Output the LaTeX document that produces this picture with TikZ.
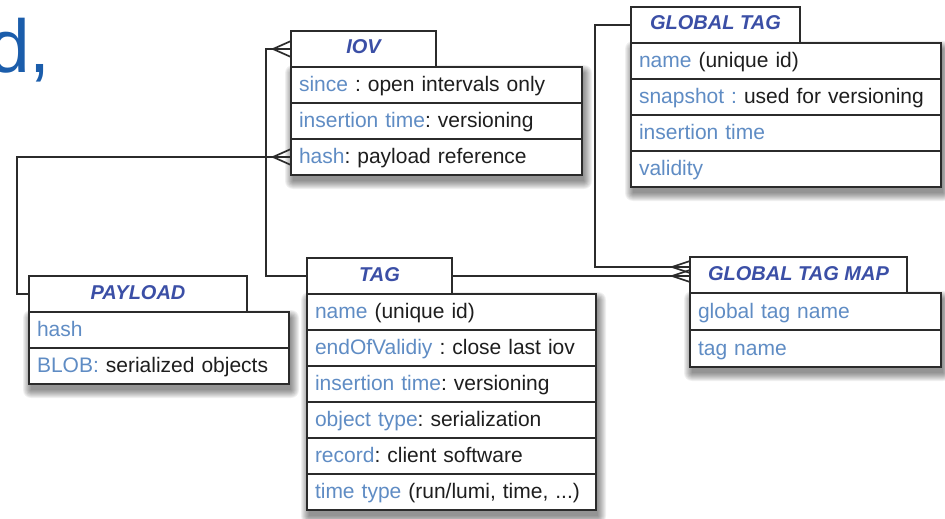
\documentclass[tikz,border=0pt]{standalone}
\usepackage{fontspec}
\setmainfont{Liberation Sans}
\usetikzlibrary{backgrounds,calc}
\frenchspacing

\definecolor{fieldblue}{HTML}{5F8CC4}
\definecolor{titleblue}{HTML}{3B4FA6}
\definecolor{ink}{HTML}{1E1E1E}
\definecolor{edge}{HTML}{2B2B2B}
\definecolor{headblue}{HTML}{1B5DAB}

\tikzset{
  entbox/.style={draw=edge, line width=1.8pt, fill=white, anchor=north west,
    inner xsep=8pt, inner ysep=0pt, outer sep=0pt},
  hdr/.style={entbox, minimum height=36pt, text height=14pt, text depth=4pt,
    font=\fontsize{20}{24}\selectfont\bfseries\itshape, text=titleblue},
  fieldrow/.style={entbox, minimum height=36pt, text width=#1, align=left,
    text height=18pt, text depth=5pt, font=\fontsize{21}{25}\selectfont, text=ink},
  conn/.style={draw=edge, line width=1.8pt},
}

% field name in blue
\newcommand\fk[1]{\textcolor{fieldblue}{#1}}

% soft shadow under an entity body, given its two corner anchors
\newcommand\boxshade[2]{%
  \begin{pgfonlayer}{background}
    \foreach \s in {0,...,8}{
      \fill[black, opacity=0.06, rounded corners=\s*1pt]
        ([xshift=2pt-\s*1pt, yshift=\s*1pt-6pt]#1) rectangle
        ([xshift=2pt+\s*1pt, yshift=-6pt-\s*1pt]#2);
    }
  \end{pgfonlayer}}

% crow's foot (many side) ending at an anchor on a box's left edge
\newcommand\crow[2]{%
  \draw[conn, line width=1.7pt]
    ([xshift=-18pt]#1) -- ([yshift=#2]#1)
    ([xshift=-18pt]#1) -- (#1)
    ([xshift=-18pt]#1) -- ([yshift=-#2]#1);}

\begin{document}
\begin{tikzpicture}[x=1pt, y=-1pt]
\useasboundingbox (0,0) rectangle (945,519);

% fragment of a slide title
\node[anchor=base west, inner sep=0pt, text=headblue,
      font=\fontsize{75}{80}\selectfont] (frag) at (-12,73) {d,};

% ---- IOV ----
\node[hdr, minimum width=145pt] (iovH) at (291,31) {IOV};
\node[fieldrow=275pt] (iov1) at (iovH.south west) {\fk{since} : open intervals only};
\node[fieldrow=275pt] (iov2) at (iov1.south west) {\fk{insertion time}: versioning};
\node[fieldrow=275pt] (iov3) at (iov2.south west) {\fk{hash}: payload reference};
\boxshade{iov1.north west}{iov3.south east}

% ---- GLOBAL TAG ----
\node[hdr, minimum width=169pt] (gtH) at (631,7) {GLOBAL TAG};
\node[fieldrow=294pt] (gt1) at (gtH.south west) {\fk{name} (unique id)};
\node[fieldrow=294pt] (gt2) at (gt1.south west) {\fk{snapshot :} used for versioning};
\node[fieldrow=294pt] (gt3) at (gt2.south west) {\fk{insertion time}};
\node[fieldrow=294pt] (gt4) at (gt3.south west) {\fk{validity}};
\boxshade{gt1.north west}{gt4.south east}

% ---- PAYLOAD ----
\node[hdr, minimum width=218pt] (payH) at (29,276) {PAYLOAD};
\node[fieldrow=244pt] (pay1) at (payH.south west) {\fk{hash}};
\node[fieldrow=244pt] (pay2) at (pay1.south west) {\fk{BLOB:} serialized objects};
\boxshade{pay1.north west}{pay2.south east}

% ---- TAG ----
\node[hdr, minimum width=145pt] (tagH) at (307,258) {TAG};
\node[fieldrow=273pt] (tag1) at (tagH.south west) {\fk{name} (unique id)};
\node[fieldrow=273pt] (tag2) at (tag1.south west) {\fk{endOfValidiy} : close last iov};
\node[fieldrow=273pt] (tag3) at (tag2.south west) {\fk{insertion time}: versioning};
\node[fieldrow=273pt] (tag4) at (tag3.south west) {\fk{object type}: serialization};
\node[fieldrow=273pt] (tag5) at (tag4.south west) {\fk{record}: client software};
\node[fieldrow=273pt] (tag6) at (tag5.south west) {\fk{time type} (run/lumi, time, ...)};
\boxshade{tag1.north west}{tag6.south east}

% ---- GLOBAL TAG MAP ----
\node[hdr, minimum width=217pt] (gtmH) at (690,257) {GLOBAL TAG MAP};
\node[fieldrow=235pt, minimum height=37pt] (gtm1) at (gtmH.south west) {\fk{global tag name}};
\node[fieldrow=235pt, minimum height=37pt] (gtm2) at (gtm1.south west) {\fk{tag name}};
\boxshade{gtm1.north west}{gtm2.south east}

% ---- relations ----
\coordinate (railA) at (266,0);
\coordinate (railB) at (17,0);
\coordinate (railC) at (595,0);
\coordinate (gtmTop) at ([yshift=8pt]gtmH.west);
\coordinate (gtmLow) at (tagH.east -| gtmH.west);

\draw[conn] (tagH.west) -- (tagH.west -| railA) -- (iovH.west -| railA) -- (iovH.west);
\crow{iovH.west}{8pt}

\draw[conn] (iov3.west) -- (iov3.west -| railB) -- (payH.west -| railB) -- (payH.west);
\crow{iov3.west}{8pt}

\draw[conn] (gtH.west) -- (gtH.west -| railC) -- (gtmTop -| railC) -- (gtmTop);
\crow{gtmTop}{6pt}

\draw[conn] (tagH.east) -- (gtmLow);
\crow{gtmLow}{6pt}
\end{tikzpicture}
\end{document}
